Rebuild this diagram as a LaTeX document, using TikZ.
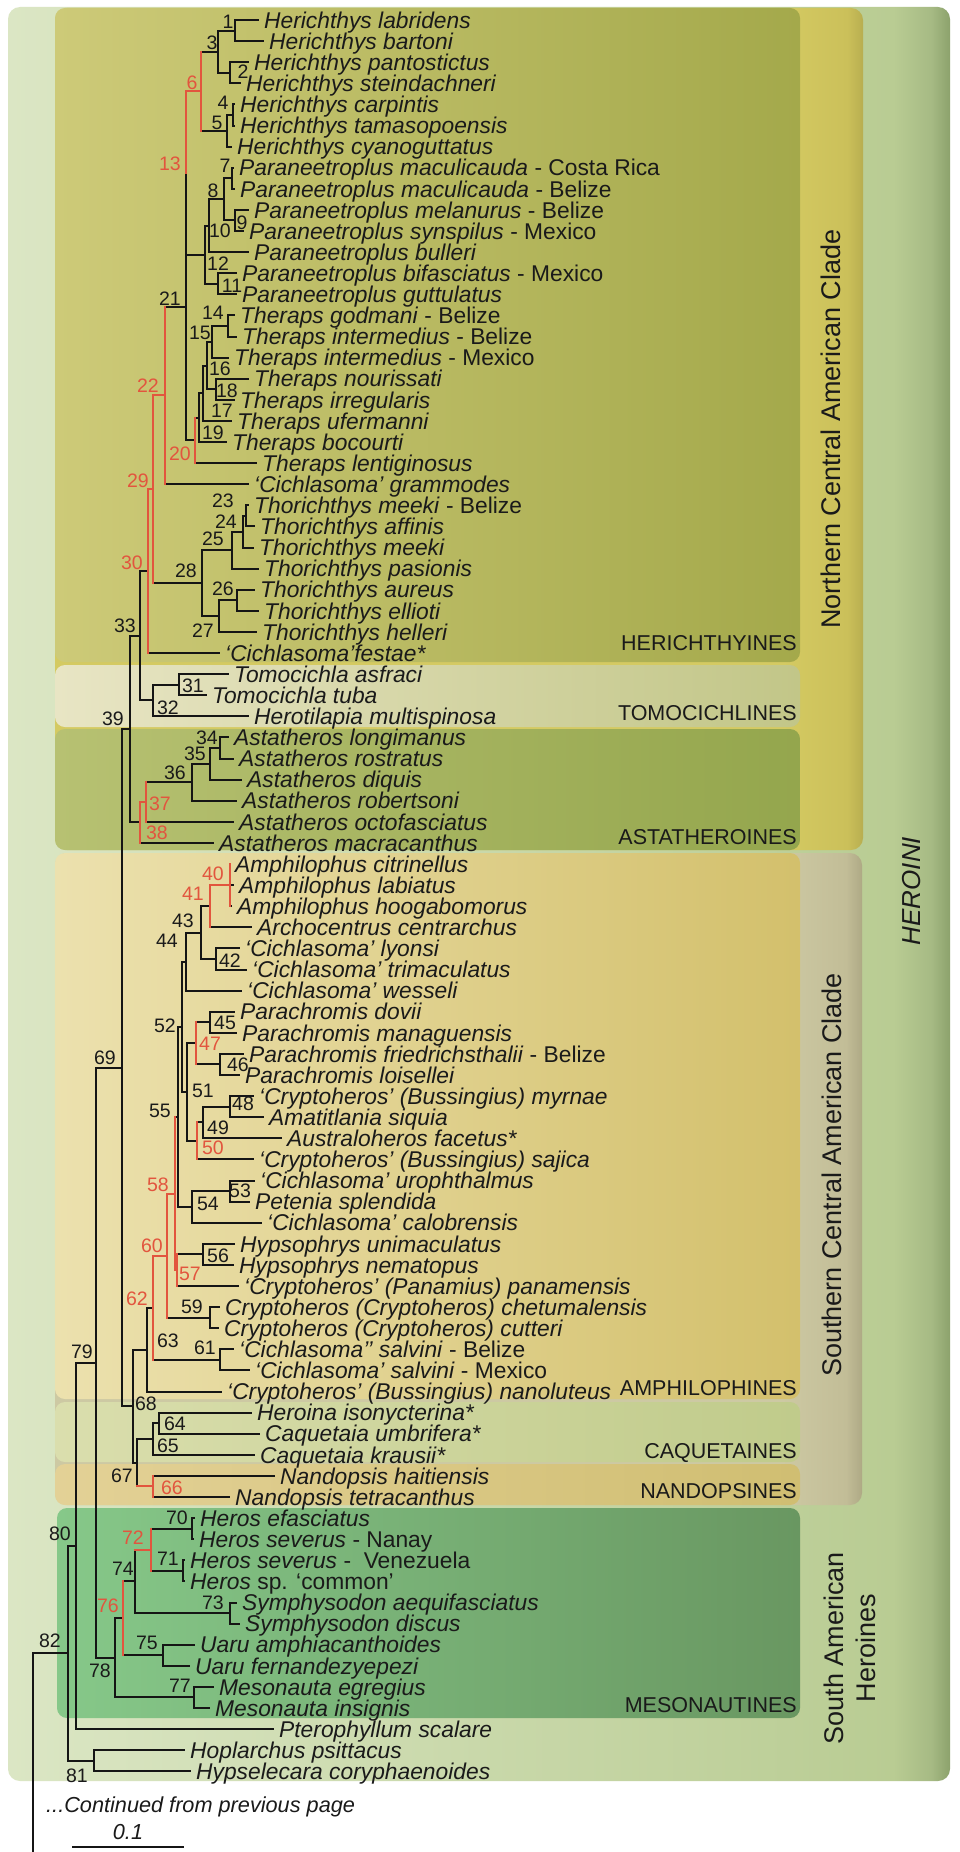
\documentclass[tikz,border=0pt]{standalone}
\usepackage{fontspec}
\setmainfont{Liberation Sans}
\definecolor{linec}{HTML}{151515}
\definecolor{redc}{HTML}{E2553E}
\definecolor{textc}{HTML}{1A1A1A}
\definecolor{hA}{HTML}{DBE6C4}
\definecolor{hB}{HTML}{B9CC93}
\definecolor{hC}{HTML}{A6BA84}
\definecolor{hD}{HTML}{8CA26C}
\definecolor{nA}{HTML}{D4CA62}
\definecolor{nB}{HTML}{CBC05A}
\definecolor{nC}{HTML}{B8AE50}
\definecolor{sA}{HTML}{CDC9A3}
\definecolor{sB}{HTML}{C2BD97}
\definecolor{sC}{HTML}{AEA985}
\definecolor{herL}{HTML}{CDCA78}
\definecolor{herR}{HTML}{A4A94B}
\definecolor{tomL}{HTML}{E8E5C4}
\definecolor{tomR}{HTML}{C2C688}
\definecolor{astL}{HTML}{B7C172}
\definecolor{astR}{HTML}{94A64D}
\definecolor{ampL}{HTML}{ECE1AE}
\definecolor{ampR}{HTML}{D3C06C}
\definecolor{caqL}{HTML}{DADEAD}
\definecolor{caqR}{HTML}{C0CB8B}
\definecolor{nanL}{HTML}{E3D196}
\definecolor{nanR}{HTML}{D0BE72}
\definecolor{mesL}{HTML}{86C889}
\definecolor{mesR}{HTML}{699761}
\pgfdeclarehorizontalshading{heroshade}{100bp}{color(0bp)=(hA); color(25bp)=(hA); color(72bp)=(hB); color(74bp)=(hC); color(75bp)=(hD); color(100bp)=(hD)}
\pgfdeclarehorizontalshading{northshade}{100bp}{color(0bp)=(nA); color(25bp)=(nA); color(70bp)=(nA); color(74bp)=(nB); color(75bp)=(nC); color(100bp)=(nC)}
\pgfdeclarehorizontalshading{southshade}{100bp}{color(0bp)=(sA); color(25bp)=(sA); color(70bp)=(sA); color(74bp)=(sB); color(75bp)=(sC); color(100bp)=(sC)}
\newcommand\tipnode[4]{\node[tipn] (#1) at ({#2-8},{20+21.1*(#3-1)}) {#4};}
\begin{document}
\begin{tikzpicture}[x=1pt,y=-1pt,
  treeln/.style={line width=2pt, draw=linec},
  redln/.style={line width=2pt, draw=redc, line cap=rect},
  tipn/.style={anchor=west, inner xsep=5pt, inner ysep=0pt, text height=16.4pt, text depth=0pt, font=\fontsize{22.8}{26}\selectfont, text=textc},
  lbl/.style={inner sep=0pt, text height=14pt, text depth=0pt, font=\fontsize{19.5}{22}\selectfont, text=textc},
  rlbl/.style={lbl, text=redc},
  cladelbl/.style={anchor=east, inner sep=0pt, text height=15.5pt, text depth=0pt, font=\fontsize{21.5}{24}\selectfont, text=textc},
  sidelbl/.style={rotate=90, inner sep=0pt, font=\fontsize{27}{32}\selectfont, text=textc, align=center},
  panel/.style={rounded corners=10pt}
]
\useasboundingbox (0,0) rectangle (960,1852);
\fill[white] (0,0) rectangle (960,1852);
% panels
\shade[shading=heroshade, rounded corners=12pt] (8,7) rectangle (950,1781);
\shade[shading=northshade, rounded corners=12pt] (55,8) rectangle (863,850);
\shade[shading=southshade, rounded corners=12pt] (55,853) rectangle (862,1505);
\shade[panel, left color=herL, right color=herR] (55,8) rectangle (800,662);
\shade[panel, left color=tomL, right color=tomR] (55,665) rectangle (800,727);
\shade[panel, left color=astL, right color=astR] (55,729) rectangle (800,850);
\shade[panel, left color=ampL, right color=ampR] (55,853) rectangle (800,1399);
\shade[panel, left color=caqL, right color=caqR] (55,1402) rectangle (800,1462);
\shade[panel, left color=nanL, right color=nanR] (55,1464) rectangle (800,1505);
\shade[panel, left color=mesL, right color=mesR] (57,1508) rectangle (800,1718);
% tips
\tipnode{t1}{267}{1}{\textit{Herichthys labridens}}
\tipnode{t2}{272}{2}{\textit{Herichthys bartoni}}
\tipnode{t3}{257}{3}{\textit{Herichthys pantostictus}}
\tipnode{t4}{249}{4}{\textit{Herichthys steindachneri}}
\tipnode{t5}{243}{5}{\textit{Herichthys carpintis}}
\tipnode{t6}{243}{6}{\textit{Herichthys tamasopoensis}}
\tipnode{t7}{240}{7}{\textit{Herichthys cyanoguttatus}}
\tipnode{t8}{242}{8}{\textit{Paraneetroplus maculicauda} - Costa Rica}
\tipnode{t9}{243}{9}{\textit{Paraneetroplus maculicauda} - Belize}
\tipnode{t10}{257}{10}{\textit{Paraneetroplus melanurus} - Belize}
\tipnode{t11}{252}{11}{\textit{Paraneetroplus synspilus} - Mexico}
\tipnode{t12}{257}{12}{\textit{Paraneetroplus bulleri}}
\tipnode{t13}{245}{13}{\textit{Paraneetroplus bifasciatus} - Mexico}
\tipnode{t14}{245}{14}{\textit{Paraneetroplus guttulatus}}
\tipnode{t15}{243}{15}{\textit{Theraps godmani} - Belize}
\tipnode{t16}{245}{16}{\textit{Theraps intermedius} - Belize}
\tipnode{t17}{237}{17}{\textit{Theraps intermedius} - Mexico}
\tipnode{t18}{257}{18}{\textit{Theraps nourissati}}
\tipnode{t19}{243}{19}{\textit{Theraps irregularis}}
\tipnode{t20}{240}{20}{\textit{Theraps ufermanni}}
\tipnode{t21}{235}{21}{\textit{Theraps bocourti}}
\tipnode{t22}{265}{22}{\textit{Theraps lentiginosus}}
\tipnode{t23}{257}{23}{\textit{‘Cichlasoma’ grammodes}}
\tipnode{t24}{257}{24}{\textit{Thorichthys meeki} - Belize}
\tipnode{t25}{263}{25}{\textit{Thorichthys affinis}}
\tipnode{t26}{262}{26}{\textit{Thorichthys meeki}}
\tipnode{t27}{267}{27}{\textit{Thorichthys pasionis}}
\tipnode{t28}{263}{28}{\textit{Thorichthys aureus}}
\tipnode{t29}{267}{29}{\textit{Thorichthys ellioti}}
\tipnode{t30}{265}{30}{\textit{Thorichthys helleri}}
\tipnode{t31}{228}{31}{\textit{‘Cichlasoma’festae*}}
\tipnode{t32}{237}{32}{\textit{Tomocichla asfraci}}
\tipnode{t33}{215}{33}{\textit{Tomocichla tuba}}
\tipnode{t34}{257}{34}{\textit{Herotilapia multispinosa}}
\tipnode{t35}{237}{35}{\textit{Astatheros longimanus}}
\tipnode{t36}{242}{36}{\textit{Astatheros rostratus}}
\tipnode{t37}{250}{37}{\textit{Astatheros diquis}}
\tipnode{t38}{245}{38}{\textit{Astatheros robertsoni}}
\tipnode{t39}{242}{39}{\textit{Astatheros octofasciatus}}
\tipnode{t40}{222}{40}{\textit{Astatheros macracanthus}}
\tipnode{t41}{238}{41}{\textit{Amphilophus citrinellus}}
\tipnode{t42}{242}{42}{\textit{Amphilophus labiatus}}
\tipnode{t43}{240}{43}{\textit{Amphilophus hoogabomorus}}
\tipnode{t44}{260}{44}{\textit{Archocentrus centrarchus}}
\tipnode{t45}{248}{45}{\textit{‘Cichlasoma’ lyonsi}}
\tipnode{t46}{255}{46}{\textit{‘Cichlasoma’ trimaculatus}}
\tipnode{t47}{250}{47}{\textit{‘Cichlasoma’ wesseli}}
\tipnode{t48}{243}{48}{\textit{Parachromis dovii}}
\tipnode{t49}{245}{49}{\textit{Parachromis managuensis}}
\tipnode{t50}{252}{50}{\textit{Parachromis friedrichsthalii} - Belize}
\tipnode{t51}{248}{51}{\textit{Parachromis loisellei}}
\tipnode{t52}{262}{52}{\textit{‘Cryptoheros’ (Bussingius) myrnae}}
\tipnode{t53}{272}{53}{\textit{Amatitlania siquia}}
\tipnode{t54}{290}{54}{\textit{Australoheros facetus*}}
\tipnode{t55}{262}{55}{\textit{‘Cryptoheros’ (Bussingius) sajica}}
\tipnode{t56}{263}{56}{\textit{‘Cichlasoma’ urophthalmus}}
\tipnode{t57}{258}{57}{\textit{Petenia splendida}}
\tipnode{t58}{270}{58}{\textit{‘Cichlasoma’ calobrensis}}
\tipnode{t59}{243}{59}{\textit{Hypsophrys unimaculatus}}
\tipnode{t60}{242}{60}{\textit{Hypsophrys nematopus}}
\tipnode{t61}{247}{61}{\textit{‘Cryptoheros’ (Panamius) panamensis}}
\tipnode{t62}{228}{62}{\textit{Cryptoheros (Cryptoheros) chetumalensis}}
\tipnode{t63}{227}{63}{\textit{Cryptoheros (Cryptoheros) cutteri}}
\tipnode{t64}{242}{64}{\textit{‘Cichlasoma’’ salvini} - Belize}
\tipnode{t65}{258}{65}{\textit{‘Cichlasoma’ salvini} - Mexico}
\tipnode{t66}{230}{66}{\textit{‘Cryptoheros’ (Bussingius) nanoluteus}}
\tipnode{t67}{260}{67}{\textit{Heroina isonycterina*}}
\tipnode{t68}{268}{68}{\textit{Caquetaia umbrifera*}}
\tipnode{t69}{263}{69}{\textit{Caquetaia krausii*}}
\tipnode{t70}{283}{70}{\textit{Nandopsis haitiensis}}
\tipnode{t71}{238}{71}{\textit{Nandopsis tetracanthus}}
\tipnode{t72}{203}{72}{\textit{Heros efasciatus}}
\tipnode{t73}{202}{73}{\textit{Heros severus} - Nanay}
\tipnode{t74}{193}{74}{\textit{Heros severus} - \ Venezuela}
\tipnode{t75}{193}{75}{\textit{Heros} sp. ‘common’}
\tipnode{t76}{245}{76}{\textit{Symphysodon aequifasciatus}}
\tipnode{t77}{248}{77}{\textit{Symphysodon discus}}
\tipnode{t78}{203}{78}{\textit{Uaru amphiacanthoides}}
\tipnode{t79}{198}{79}{\textit{Uaru fernandezyepezi}}
\tipnode{t80}{222}{80}{\textit{Mesonauta egregius}}
\tipnode{t81}{218}{81}{\textit{Mesonauta insignis}}
\tipnode{t82}{282}{82}{\textit{Pterophyllum scalare}}
\tipnode{t83}{193}{83}{\textit{Hoplarchus psittacus}}
\tipnode{t84}{199}{84}{\textit{Hypselecara coryphaenoides}}
% internal nodes
\coordinate (n1) at (235,30.55);
\coordinate (n2) at (230,72.75);
\coordinate (n3) at (218,51.65);
\coordinate (n4) at (233,114.95);
\coordinate (n5) at (227,130.78);
\coordinate (n6) at (201,91.21);
\coordinate (n7) at (232,178.25);
\coordinate (n9) at (235,220.45);
\coordinate (n8) at (224,199.35);
\coordinate (n10) at (209,225.73);
\coordinate (n11) at (218,283.75);
\coordinate (n12) at (205,254.74);
\coordinate (n13) at (186,172.98);
\coordinate (n14) at (228,325.95);
\coordinate (n15) at (212,341.78);
\coordinate (n18) at (216,389.25);
\coordinate (n16) at (207,365.51);
\coordinate (n17) at (203,393.21);
\coordinate (n19) at (199,417.6);
\coordinate (n20) at (195,440.35);
\coordinate (n21) at (186,306.67);
\coordinate (n22) at (165,395.43);
\coordinate (n23) at (246,515.85);
\coordinate (n24) at (243,531.68);
\coordinate (n25) at (232,550.14);
\coordinate (n26) at (237,600.25);
\coordinate (n27) at (219,616.08);
\coordinate (n28) at (202,583.11);
\coordinate (n29) at (153,489.27);
\coordinate (n30) at (148,571.14);
\coordinate (n31) at (179,684.65);
\coordinate (n32) at (153,700.48);
\coordinate (n33) at (140,635.81);
\coordinate (n34) at (220,747.95);
\coordinate (n35) at (210,763.78);
\coordinate (n36) at (192,782.24);
\coordinate (n37) at (146,802.02);
\coordinate (n38) at (140,822.46);
\coordinate (n39) at (130,729.14);
\coordinate (n40) at (230,885.1);
\coordinate (n41) at (210,906.2);
\coordinate (n42) at (216,958.95);
\coordinate (n43) at (201,932.58);
\coordinate (n44) at (186,961.59);
\coordinate (n45) at (210,1022.25);
\coordinate (n46) at (220,1064.45);
\coordinate (n47) at (196,1043.35);
\coordinate (n48) at (230,1106.65);
\coordinate (n49) at (203,1122.48);
\coordinate (n50) at (197,1140.94);
\coordinate (n51) at (187,1092.15);
\coordinate (n52) at (182,1026.87);
\coordinate (n53) at (230,1191.05);
\coordinate (n54) at (192,1206.88);
\coordinate (n55) at (178,1116.88);
\coordinate (n56) at (203,1254.35);
\coordinate (n57) at (177,1270.18);
\coordinate (n58) at (175,1193.53);
\coordinate (n59) at (210,1317.65);
\coordinate (n60) at (167,1255.59);
\coordinate (n61) at (220,1359.85);
\coordinate (n62) at (153,1307.72);
\coordinate (n63) at (147,1349.61);
\coordinate (n64) at (159,1423.15);
\coordinate (n65) at (153,1438.98);
\coordinate (n66) at (153,1486.45);
\coordinate (n67) at (137,1462.72);
\coordinate (n68) at (133,1406.17);
\coordinate (n69) at (122,1067.66);
\coordinate (n70) at (192,1528.65);
\coordinate (n71) at (183,1570.85);
\coordinate (n72) at (151,1549.75);
\coordinate (n73) at (230,1613.05);
\coordinate (n74) at (135,1581.4);
\coordinate (n75) at (163,1655.25);
\coordinate (n76) at (123,1618.33);
\coordinate (n77) at (194,1697.45);
\coordinate (n78) at (115,1657.89);
\coordinate (n79) at (96,1362.78);
\coordinate (n80) at (76,1545.94);
\coordinate (n81) at (94,1760.75);
\coordinate (n82) at (68,1653.35);
\coordinate (root) at (33,1653.35);
\coordinate (rootb) at (33,1852);
% black branches
\foreach \a/\b in {n1/t1.west,n1/t2.west,n2/t3.west,n2/t4.west,n3/n1,n3/n2,n4/t5.west,n4/t6.west,n5/n4,n5/t7.west,n6/n3,n6/n5,
  n7/t8.west,n7/t9.west,n9/t10.west,n9/t11.west,n8/n7,n8/n9,n10/n8,n10/t12.west,n11/t13.west,n11/t14.west,n12/n10,n12/n11,n13/n6,n13/n12,
  n14/t15.west,n14/t16.west,n15/n14,n15/t17.west,n18/t18.west,n18/t19.west,n16/n15,n16/n18,n17/n16,n17/t20.west,n19/n17,n19/t21.west,
  n20/n19,n20/t22.west,n21/n13,n21/n20,n22/n21,n22/t23.west,
  n23/t24.west,n23/t25.west,n24/n23,n24/t26.west,n25/n24,n25/t27.west,n26/t28.west,n26/t29.west,n27/n26,n27/t30.west,n28/n25,n28/n27,
  n29/n22,n29/n28,n30/n29,n30/t31.west,n31/t32.west,n31/t33.west,n32/n31,n32/t34.west,n33/n30,n33/n32,
  n34/t35.west,n34/t36.west,n35/n34,n35/t37.west,n36/n35,n36/t38.west,n37/n36,n37/t39.west,n38/n37,n38/t40.west,n39/n33,n39/n38,
  n40/t41.west,n40/t42.west,n40/t43.west,n41/n40,n41/t44.west,n42/t45.west,n42/t46.west,n43/n41,n43/n42,n44/n43,n44/t47.west,
  n45/t48.west,n45/t49.west,n46/t50.west,n46/t51.west,n47/n45,n47/n46,n48/t52.west,n48/t53.west,n49/n48,n49/t54.west,n50/n49,n50/t55.west,
  n51/n47,n51/n50,n52/n44,n52/n51,n53/t56.west,n53/t57.west,n54/n53,n54/t58.west,n55/n52,n55/n54,n56/t59.west,n56/t60.west,n57/n56,n57/t61.west,
  n58/n55,n58/n57,n59/t62.west,n59/t63.west,n60/n58,n60/n59,n61/t64.west,n61/t65.west,n62/n60,n62/n61,n63/n62,n63/t66.west,
  n64/t67.west,n64/t68.west,n65/n64,n65/t69.west,n66/t70.west,n66/t71.west,n67/n65,n67/n66,n68/n63,n68/n67,n69/n39,n69/n68,
  n70/t72.west,n70/t73.west,n71/t74.west,n71/t75.west,n72/n70,n72/n71,n73/t76.west,n73/t77.west,n74/n72,n74/n73,n75/t78.west,n75/t79.west,
  n76/n74,n76/n75,n77/t80.west,n77/t81.west,n78/n76,n78/n77,n79/n69,n79/n78,n80/n79,n80/t82.west,n81/t83.west,n81/t84.west,n82/n80,n82/n81}
  {\draw[treeln] (\a) |- (\b);}
\draw[treeln] (rootb) -- (root) -- (n82);
% red branches
\draw[redln] (n6|-n3) -- (n6|-n5);
\draw[redln] (n13|-n6) -- (n6);
\draw[redln] (n13|-n6) -- (n13);
\draw[redln] (n20|-n19) -- (n20|-t22.west);
\draw[redln] (n22|-n21) -- (n22|-t23.west);
\draw[redln] (n29|-n22) -- (n22);
\draw[redln] (n29|-n22) -- (n29|-n28);
\draw[redln] (n30|-n29) -- (n29);
\draw[redln] (n30|-n29) -- (n30|-t31.west);
\draw[redln] (n37|-n36) -- (n37|-t39.west);
\draw[redln] (n38|-n37) -- (n37);
\draw[redln] (n38|-n37) -- (n38|-t40.west);
\draw[redln] (n40|-t41.west) -- (n40|-t43.west);
\draw[redln] (n41|-n40) -- (n40);
\draw[redln] (n41|-n40) -- (n41|-t44.west);
\draw[redln] (n47|-n45) -- (n47|-n46);
\draw[redln] (n50|-n49) -- (n50|-t55.west);
\draw[redln] (n57|-n56) -- (n57|-t61.west);
\draw[redln] (n58|-n55) -- (n58|-n57);
\draw[redln] (n60|-n58) -- (n58);
\draw[redln] (n60|-n58) -- (n60|-n59);
\draw[redln] (n62|-n60) -- (n60);
\draw[redln] (n62|-n60) -- (n62|-n61);
\draw[redln] (n66|-t70.west) -- (n66|-t71.west);
\draw[redln] (n67|-n66) -- (n66);
\draw[redln] (n72|-n70) -- (n72|-n71);
\draw[redln] (n74|-n72) -- (n72);
\draw[redln] (n76|-n74) -- (n76|-n75);
% node labels
\node[lbl] (l1) at (228,22) {1};
\node[lbl] (l2) at (243,71) {2};
\node[lbl] (l3) at (212,42) {3};
\node[lbl] (l4) at (223,102) {4};
\node[lbl] (l5) at (217,122) {5};
\node[rlbl] (l6) at (192,82) {6};
\node[rlbl] (l13) at (170,163) {13};
\node[lbl] (l7) at (225,165) {7};
\node[lbl] (l8) at (213,190) {8};
\node[lbl] (l9) at (242,222) {9};
\node[lbl] (l10) at (220,230) {10};
\node[lbl] (l12) at (218,263) {12};
\node[lbl] (l11) at (232,285) {11};
\node[lbl] (l21) at (170,298) {21};
\node[lbl] (l14) at (213,312) {14};
\node[lbl] (l15) at (200,332) {15};
\node[lbl] (l16) at (220,368) {16};
\node[lbl] (l18) at (227,390) {18};
\node[lbl] (l17) at (222,410) {17};
\node[lbl] (l19) at (213,432) {19};
\node[rlbl] (l20) at (180,453) {20};
\node[rlbl] (l22) at (148,385) {22};
\node[rlbl] (l29) at (138,480) {29};
\node[lbl] (l23) at (223,500) {23};
\node[lbl] (l24) at (226,521) {24};
\node[lbl] (l25) at (213,538) {25};
\node[lbl] (l28) at (186,570) {28};
\node[rlbl] (l30) at (132,562) {30};
\node[lbl] (l26) at (223,588) {26};
\node[lbl] (l27) at (203,630) {27};
\node[lbl] (l33) at (125,625) {33};
\node[lbl] (l31) at (193,685) {31};
\node[lbl] (l32) at (168,707) {32};
\node[lbl] (l39) at (113,718) {39};
\node[lbl] (l34) at (207,737) {34};
\node[lbl] (l35) at (195,753) {35};
\node[lbl] (l36) at (175,772) {36};
\node[rlbl] (l37) at (160,803) {37};
\node[rlbl] (l38) at (157,832) {38};
\node[rlbl] (l40) at (213,873) {40};
\node[rlbl] (l41) at (193,893) {41};
\node[lbl] (l43) at (183,920) {43};
\node[lbl] (l44) at (167,940) {44};
\node[lbl] (l42) at (230,960) {42};
\node[lbl] (l52) at (165,1025) {52};
\node[lbl] (l45) at (225,1022) {45};
\node[rlbl] (l47) at (210,1043) {47};
\node[lbl] (l46) at (238,1064) {46};
\node[lbl] (l69) at (105,1057) {69};
\node[lbl] (l51) at (203,1090) {51};
\node[lbl] (l55) at (160,1110) {55};
\node[lbl] (l48) at (243,1103) {48};
\node[lbl] (l49) at (218,1127) {49};
\node[rlbl] (l50) at (213,1147) {50};
\node[rlbl] (l58) at (158,1184) {58};
\node[lbl] (l53) at (240,1190) {53};
\node[lbl] (l54) at (208,1203) {54};
\node[rlbl] (l60) at (152,1245) {60};
\node[lbl] (l56) at (218,1255) {56};
\node[rlbl] (l57) at (190,1273) {57};
\node[rlbl] (l62) at (137,1298) {62};
\node[lbl] (l59) at (192,1306) {59};
\node[lbl] (l63) at (168,1340) {63};
\node[lbl] (l61) at (205,1347) {61};
\node[lbl] (l79) at (82,1351) {79};
\node[lbl] (l68) at (146,1403) {68};
\node[lbl] (l64) at (175,1423) {64};
\node[lbl] (l65) at (168,1445) {65};
\node[lbl] (l67) at (122,1475) {67};
\node[rlbl] (l66) at (172,1487) {66};
\node[lbl] (l70) at (177,1517) {70};
\node[lbl] (l80) at (60,1533) {80};
\node[rlbl] (l72) at (133,1537) {72};
\node[lbl] (l71) at (168,1558) {71};
\node[lbl] (l74) at (123,1568) {74};
\node[lbl] (l73) at (213,1602) {73};
\node[rlbl] (l76) at (108,1605) {76};
\node[lbl] (l82) at (50,1640) {82};
\node[lbl] (l75) at (147,1642) {75};
\node[lbl] (l78) at (100,1670) {78};
\node[lbl] (l77) at (180,1685) {77};
\node[lbl] (l81) at (77,1775) {81};
% clade labels
\node[cladelbl] (herich) at (797,643) {HERICHTHYINES};
\node[cladelbl] (tomoc) at (797,713) {TOMOCICHLINES};
\node[cladelbl] (astat) at (797,837) {ASTATHEROINES};
\node[cladelbl] (amphi) at (797,1388) {AMPHILOPHINES};
\node[cladelbl] (caque) at (797,1451) {CAQUETAINES};
\node[cladelbl] (nando) at (797,1491) {NANDOPSINES};
\node[cladelbl] (mesona) at (797,1705) {MESONAUTINES};
\node[sidelbl] (ncac) at (831,429) {Northern Central American Clade};
\node[sidelbl] (scac) at (832,1175) {Southern Central American Clade};
\node[sidelbl, font=\itshape\fontsize{26}{29}\selectfont] (heroini) at (912,891) {HEROINI};
\node[sidelbl] (sah) at (850,1648) {South American\\Heroines};
% caption and scale
\node[anchor=west, inner sep=0pt, font=\itshape\fontsize{21.7}{24}\selectfont, text=textc] (cont) at (46,1807) {...Continued from previous page};
\node[inner sep=0pt, font=\itshape\fontsize{21.7}{24}\selectfont, text=textc] (scl) at (128,1832) {0.1};
\coordinate (sbl) at (72,1847);
\coordinate (sbr) at (184,1847);
\draw[treeln] (sbl) -- (sbr);
\end{tikzpicture}
\end{document}
